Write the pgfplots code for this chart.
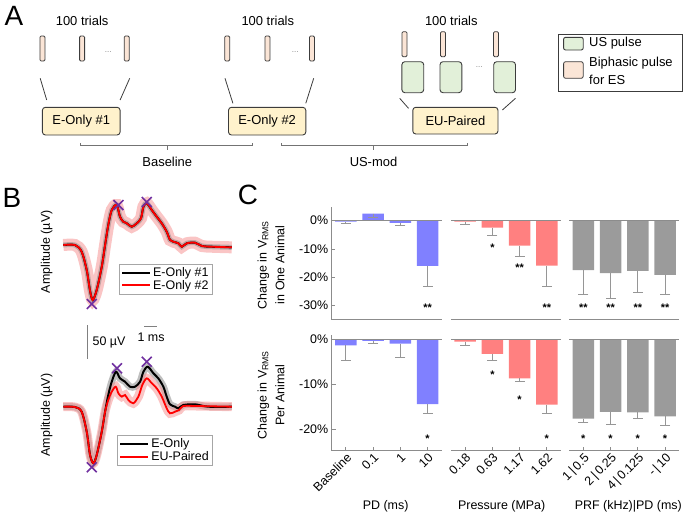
\documentclass[border=0pt]{standalone}
\usepackage{fontspec}
\setmainfont{Liberation Sans}
\usepackage{pgfplots}
\usepackage{pgfplotstable}
\pgfplotsset{compat=1.18}

\definecolor{barblue}{RGB}{128,128,255}
\definecolor{barred}{RGB}{255,128,128}
\definecolor{bargray}{RGB}{155,155,155}
\definecolor{axgray}{RGB}{140,140,140}
\definecolor{errgray}{RGB}{150,150,150}
\definecolor{boxyellow}{RGB}{255,242,204}
\definecolor{usgreen}{RGB}{226,240,217}
\definecolor{espeach}{RGB}{251,229,214}
\definecolor{xpurple}{RGB}{112,48,160}
\definecolor{bandred}{RGB}{246,150,150}
\definecolor{edge}{RGB}{60,60,60}

\newcommand{\cfont}{\fontsize{12.5}{14}\selectfont}
\newcommand{\afont}{\fontsize{13}{15}\selectfont}

% traces of panel B: time (ms), amplitude (uV)
\pgfplotstableread{
t a
0 1.5
0.88 1.5
1.38 -8.6
1.76 -36.4
2.0 -66.7
2.21 -81.8
2.51 -66.7
2.89 -31.4
3.14 1.5
3.38 31.8
3.64 54.5
4.01 62.1
4.26 44.4
4.51 36.8
4.77 34.4
5.14 29.2
5.52 34.4
5.84 42.0
6.02 59.5
6.27 64.7
6.65 54.5
7.02 44.4
7.40 34.4
7.77 21.7
8.02 9.1
8.27 6.5
8.65 4.1
8.90 -1.1
9.28 4.1
9.90 5.0
10.41 0
11.16 -1.1
12.66 -2.0
}\toptrace

\pgfplotstableread{
t a
0 0
0.88 -0.5
1.38 -7.6
1.76 -37.9
2.01 -73.2
2.26 -85.7
2.51 -73.2
2.89 -37.9
3.14 -7.6
3.38 17.7
3.64 37.9
3.96 53.0
4.26 43.0
4.64 37.9
5.01 30.3
5.39 30.3
5.77 37.9
6.02 53.0
6.35 60.6
6.77 50.6
7.14 43.0
7.52 30.3
7.77 15.2
8.02 3.6
8.40 0
8.65 -2.4
9.02 2.6
9.90 3.6
10.90 0
12.66 0
}\botblack

\pgfplotstableread{
t a
0 0
0.88 -0.5
1.38 -7.6
1.76 -37.9
2.01 -73.2
2.26 -85.7
2.51 -73.2
2.89 -37.9
3.14 -7.6
3.38 10.2
3.64 22.7
3.94 30.3
4.14 20.3
4.39 15.2
4.64 17.7
4.89 10.2
5.26 5.2
5.64 15.2
5.94 32.9
6.27 43.0
6.65 35.5
7.02 27.9
7.40 15.2
7.77 -2.4
8.02 -10.0
8.40 -7.6
8.70 -5.0
9.02 1.1
9.90 1.1
12.66 0
}\botred

\pgfplotsset{
  cpanel/.style={
    scale only axis, width=110bp,
    xmin=-0.52, xmax=3.52,
    axis x line=bottom, axis y line=left,
    axis line style={draw=axgray, line width=1.1bp, -},
    clip=false,
    ybar, bar width=0.79,
    tick style={draw=axgray, line width=0.8bp},
    tick align=inside,
    major tick length=4bp,
    ticklabel style={font=\cfont},
  },
  ctop/.style={cpanel, height=113.3bp, ymin=-35, ymax=5, xtick=\empty},
  cbot/.style={cpanel, height=116.2bp, ymin=-24.7, ymax=1,
    xtick={0,1,2,3},
    x tick label style={rotate=45, anchor=north east, inner sep=1bp},
    xlabel style={font=\cfont, anchor=center}},
  noy/.style={y axis line style={draw=none}, ytick=\empty},
  bars/.style={draw=none, fill=#1,
    error bars/.cd, y dir=minus, y explicit,
    error bar style={draw=errgray, line width=0.9bp},
    error mark options={rotate=90, mark size=5bp, draw=errgray, line width=0.9bp}},
  bpanel/.style={scale only axis, width=169bp, height=115.5bp,
    xmin=0, xmax=12.7, ymin=-100, ymax=75, hide axis, clip=false,
    legend style={draw=gray!70, line width=0.8bp, font=\cfont, inner sep=1.5bp,
      cells={anchor=west}, row sep=-2bp},
    legend image code/.code={\draw[#1] (0bp,0bp) -- (28bp,0bp);}},
}
\tikzset{
  star/.style={font=\fontsize{11}{11}\selectfont\bfseries, yshift=-2bp},
  pulse/.style={draw=edge, line width=0.8bp, fill=espeach, rounded corners=1.2bp},
  uspulse/.style={draw=edge, line width=0.9bp, fill=usgreen, rounded corners=3bp},
  cbox/.style={draw=edge, line width=0.9bp, fill=boxyellow, rounded corners=3bp},
}

\begin{document}
\begin{tikzpicture}
\path[use as bounding box] (0,0) rectangle (685bp,-517bp);

\begin{scope}[x=1bp,y=-1bp]
% ---------- panel A ----------
\node[font=\fontsize{28}{28}\selectfont] at (14,16) {A};
\foreach \cx in {82.1,267.8,451.3} \node[font=\afont] at (\cx,21) {100 trials};
\foreach \px in {42.4,82.1,126.7,227.2,267.4,311.9}
  \draw[pulse] (\px-2.5,36) rectangle (\px+2.5,61);
\foreach \px in {404.5,443,496}
  \draw[pulse] (\px-2.5,31.7) rectangle (\px+2.5,56.7);
\foreach \ux in {401.9,440,493.7}
  \draw[uspulse] (\ux,61.7) rectangle (\ux+21.8,92.7);
\foreach \dx/\dy in {108.3/51.7,295.3/51.7,479.2/66.7}
  \node[font=\fontsize{8}{8}\selectfont, text=gray] at (\dx,\dy) {...};
\draw[edge, line width=0.8bp] (40.2,78.3) -- (46.7,100);
\draw[edge, line width=0.8bp] (129.7,78.3) -- (120.1,100);
\draw[edge, line width=0.8bp] (225,78.3) -- (232.9,103.3);
\draw[edge, line width=0.8bp] (313.7,78.3) -- (305.8,103.3);
\draw[edge, line width=0.8bp] (399.7,98.3) -- (408.5,108.3);
\draw[edge, line width=0.8bp] (515.5,98.3) -- (502.4,110);
\draw[cbox] (42.4,107.3) rectangle (120.1,135) node[midway, font=\afont] {E-Only \#1};
\draw[cbox] (228.5,107.3) rectangle (305.8,135) node[midway, font=\afont] {E-Only \#2};
\draw[cbox] (412.8,107.3) rectangle (498,134) node[midway, font=\afont] {EU-Paired};
\draw[gray!90!black, line width=0.9bp] (80,143) -- (80,145.7) -- (252.5,145.7) -- (252.5,143);
\draw[gray!90!black, line width=0.9bp] (167.3,145.7) -- (167.3,150);
\draw[gray!90!black, line width=0.9bp] (281.8,143) -- (281.8,145.7) -- (467.4,145.7) -- (467.4,143);
\draw[gray!90!black, line width=0.9bp] (373.5,145.7) -- (373.5,150);
\node[font=\afont] at (167.3,161.7) {Baseline};
\node[font=\afont] at (373.5,161.7) {US-mod};
\draw[edge, line width=0.9bp] (558.3,34) rectangle (682,91);
\draw[uspulse, rounded corners=2bp] (563.6,37.3) rectangle (583.2,50);
\draw[pulse, rounded corners=2bp] (563.6,61.7) rectangle (583.2,78.3);
\node[font=\afont, anchor=west, inner sep=0pt] at (589,43.3) {US pulse};
\node[font=\afont, anchor=west, inner sep=0pt] at (589,63.3) {Biphasic pulse};
\node[font=\afont, anchor=west, inner sep=0pt] at (589,80) {for ES};

% ---------- panel B text ----------
\node[font=\fontsize{28}{28}\selectfont] at (12,198) {B};
\node[font=\cfont, rotate=90] at (46.7,251.7) {Amplitude (µV)};
\node[font=\cfont, rotate=90] at (46.7,415) {Amplitude (µV)};
\draw[gray, line width=0.9bp] (87.7,325) -- (87.7,359);
\node[font=\cfont, anchor=west, inner sep=0pt] at (92.5,342) {50 µV};
\draw[gray, line width=0.9bp] (144,326.7) -- (157.3,326.7);
\node[font=\cfont] at (151,337.5) {1 ms};

% ---------- panel C text ----------
\node[font=\fontsize{28}{28}\selectfont] at (248,195) {C};
\node[font=\cfont, rotate=90] at (263.3,265) {Change in V\textsubscript{RMS}};
\node[font=\cfont, rotate=90] at (280,265) {in One Animal};
\node[font=\cfont, rotate=90] at (263.3,395) {Change in V\textsubscript{RMS}};
\node[font=\cfont, rotate=90] at (280,395) {Per Animal};
\end{scope}

% ---------- panel B traces ----------
\begin{axis}[bpanel, at={(63.3bp,-312bp)}, anchor=south west,
  legend style={at={(0.331,0.419)}, anchor=north west}]
\addplot[bandred, opacity=0.55, line width=12bp, smooth, tension=0.5, forget plot] table[x=t,y=a] {\toptrace};
\addplot[gray, opacity=0.45, line width=5bp, smooth, tension=0.5, forget plot] table[x=t,y=a] {\toptrace};
\addplot[black, line width=2bp, smooth, tension=0.5] table[x=t,y=a] {\toptrace};
\addlegendentry{E-Only \#1}
\addplot[red, line width=1.8bp, smooth, tension=0.5] table[x=t,y=a] {\toptrace};
\addlegendentry{E-Only \#2}
\addplot[only marks, mark=x, mark size=7bp, xpurple, line width=1.6bp, forget plot] coordinates {(2.14,-87.9) (4.14,62.1) (6.27,66.7)};
\end{axis}

\begin{axis}[bpanel, at={(63.3bp,-472.7bp)}, anchor=south west,
  legend style={at={(0.32,0.326)}, anchor=north west}]
\addplot[gray, opacity=0.5, line width=7bp, smooth, tension=0.5, forget plot] table[x=t,y=a] {\botblack};
\addplot[bandred, opacity=0.55, line width=9bp, smooth, tension=0.5, forget plot] table[x=t,y=a] {\botred};
\addplot[black, line width=2bp, smooth, tension=0.5] table[x=t,y=a] {\botblack};
\addlegendentry{E-Only}
\addplot[red, line width=1.8bp, smooth, tension=0.5] table[x=t,y=a] {\botred};
\addlegendentry{EU-Paired}
\addplot[only marks, mark=x, mark size=7bp, xpurple, line width=1.6bp, forget plot] coordinates {(2.14,-91.8) (4.04,58.2) (6.27,68.2)};
\end{axis}

% ---------- panel C, top row ----------
\begin{axis}[ctop, at={(331.7bp,-319.8bp)}, anchor=south west,
  ytick={-30,-20,-10,0}, yticklabels={-30\%,-20\%,-10\%,0\%}, major tick length=3bp]
\addplot[bars=barblue] coordinates {(0,-0.3) +- (0,0.8) (1,2.5) +- (0,1.4) (2,-0.8) +- (0,1.0) (3,-16) +- (0,7.3)};
\draw[axgray, line width=1bp] (axis cs:-0.52,0) -- (axis cs:3.52,0);
\node[star] at (axis cs:3,-30) {**};
\end{axis}

\begin{axis}[ctop, noy, at={(451bp,-319.8bp)}, anchor=south west]
\addplot[bars=barred] coordinates {(0,-0.3) +- (0,1.2) (1,-2.5) +- (0,2.8) (2,-8.8) +- (0,3.9) (3,-15.9) +- (0,7.4)};
\draw[axgray, line width=1bp] (axis cs:-0.52,0) -- (axis cs:3.52,0);
\node[star] at (axis cs:1,-8.8) {*};
\node[star] at (axis cs:2,-15.9) {**};
\node[star] at (axis cs:3,-30) {**};
\end{axis}

\begin{axis}[ctop, noy, at={(569.2bp,-319.8bp)}, anchor=south west]
\addplot[bars=bargray] coordinates {(0,-17.5) +- (0,8.4) (1,-18.5) +- (0,8.9) (2,-17.7) +- (0,7.8) (3,-19.1) +- (0,6.9)};
\draw[axgray, line width=1bp] (axis cs:-0.52,0) -- (axis cs:3.52,0);
\node[star] at (axis cs:0,-30) {**};
\node[star] at (axis cs:1,-30) {**};
\node[star] at (axis cs:2,-30) {**};
\node[star] at (axis cs:3,-30) {**};
\end{axis}

% ---------- panel C, bottom row ----------
\begin{axis}[cbot, at={(331.7bp,-450.7bp)}, anchor=south west,
  ytick={-20,-10,0}, yticklabels={-20\%,-10\%,0\%},
  xticklabels={Baseline,0.1,1,10},
  xlabel={PD (ms)}, xlabel style={at={(axis description cs:0.49,-0.482)}}]
\addplot[bars=barblue] coordinates {(0,-1.4) +- (0,3.4) (1,-0.4) +- (0,0.6) (2,-1.0) +- (0,3.1) (3,-14.4) +- (0,2.1)};
\draw[axgray, line width=1bp] (axis cs:-0.52,0) -- (axis cs:3.52,0);
\node[star] at (axis cs:3,-21.5) {*};
\end{axis}

\begin{axis}[cbot, noy, at={(451bp,-450.7bp)}, anchor=south west,
  xticklabels={0.18,0.63,1.17,1.62},
  xlabel={Pressure (MPa)}, xlabel style={at={(axis description cs:0.461,-0.482)}}]
\addplot[bars=barred] coordinates {(0,-0.6) +- (0,0.8) (1,-3.3) +- (0,1.5) (2,-8.7) +- (0,0.6) (3,-14.5) +- (0,2.0)};
\draw[axgray, line width=1bp] (axis cs:-0.52,0) -- (axis cs:3.52,0);
\node[star] at (axis cs:1,-7.5) {*};
\node[star] at (axis cs:2,-13) {*};
\node[star] at (axis cs:3,-21.5) {*};
\end{axis}

\begin{axis}[cbot, noy, at={(569.2bp,-450.7bp)}, anchor=south west,
  xticklabels={{1\thinspace|\thinspace0.5},{2\thinspace|\thinspace0.25},{4\thinspace|\thinspace0.125},{-\thinspace|\thinspace10}},
  xlabel={PRF (kHz)|PD (ms)}, xlabel style={at={(axis description cs:0.537,-0.482)}}]
\addplot[bars=bargray] coordinates {(0,-17.6) +- (0,0.8) (1,-16.1) +- (0,2.7) (2,-16.2) +- (0,1.4) (3,-17.1) +- (0,2.0)};
\draw[axgray, line width=1bp] (axis cs:-0.52,0) -- (axis cs:3.52,0);
\node[star] at (axis cs:0,-21.5) {*};
\node[star] at (axis cs:1,-21.5) {*};
\node[star] at (axis cs:2,-21.5) {*};
\node[star] at (axis cs:3,-21.5) {*};
\end{axis}
\end{tikzpicture}
\end{document}
